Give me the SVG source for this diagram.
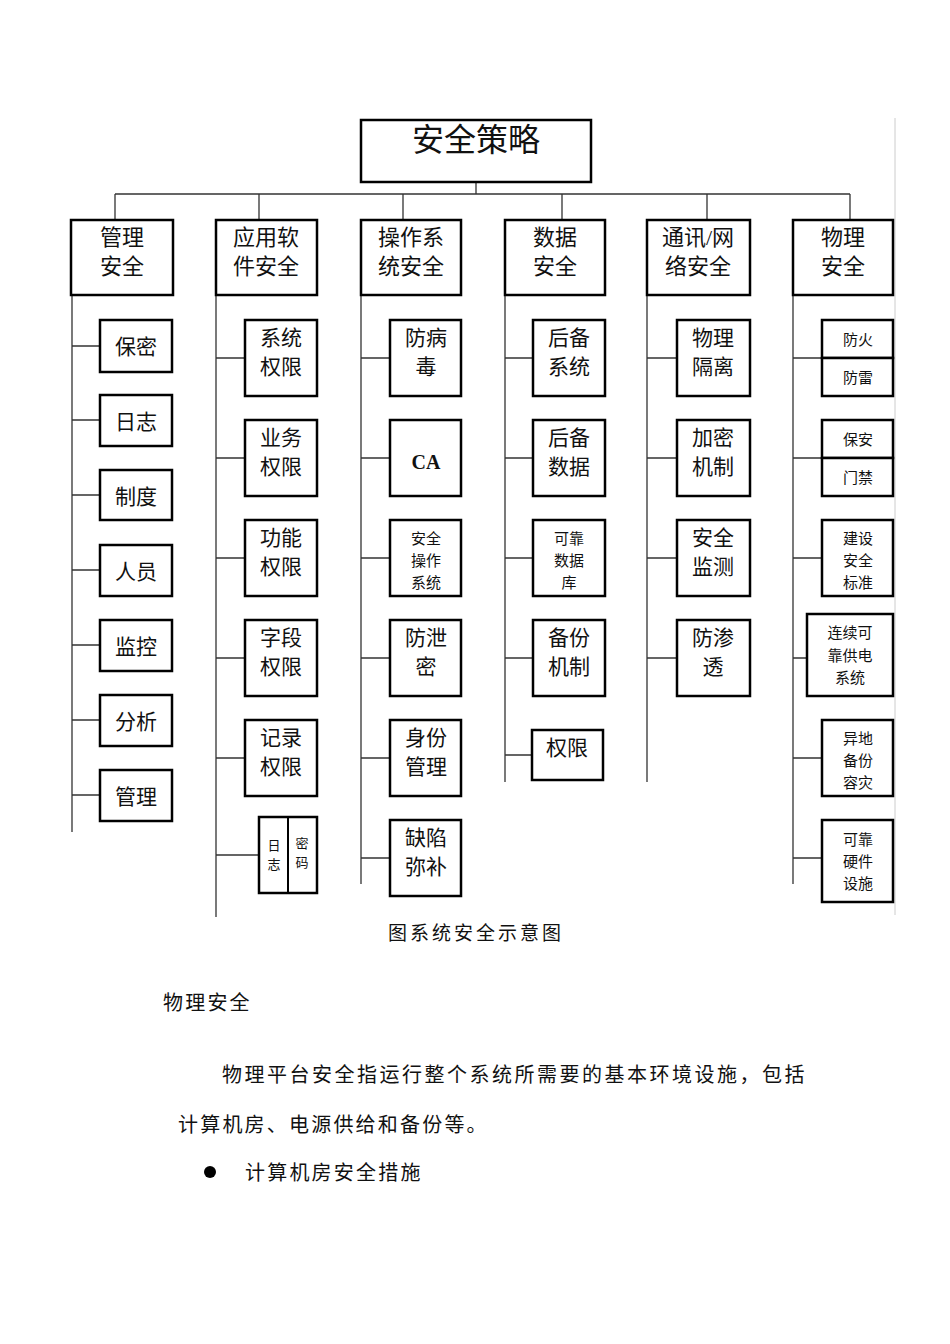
<svg xmlns="http://www.w3.org/2000/svg" width="950" height="1344" viewBox="0 0 950 1344">
<style>
.b{fill:#fff;stroke:#000;stroke-width:2.5}
.l{stroke:#333;stroke-width:1.3;fill:none}
text{font-family:"Liberation Serif","Noto Sans CJK SC",serif;fill:#111;text-anchor:middle}
.h{font-size:22px}.m{font-size:21px}.s{font-size:15px}.xs{font-size:13px}
.p{font-size:20px;text-anchor:start;letter-spacing:2.2px}
</style>
<rect width="950" height="1344" fill="#fff"/>
<line x1="895" y1="118" x2="895" y2="915" stroke="#ccc" stroke-width="1"/>
<g id="connectors" class="l">
<path d="M476 182V194M115 194H850M115 194V220M259 194V220M403 194V220M562 194V220M707 194V220M850 194V220"/>
<path d="M72 295V832M72 346H100M72 420H100M72 495H100M72 570H100M72 645H100M72 720H100M72 795H100"/>
<path d="M216 295V917M216 358H245M216 458H245M216 558H245M216 658H245M216 758H245M216 855H259"/>
<path d="M361 295V884M361 358H390M361 458H390M361 558H390M361 658H390M361 758H390M361 858H390"/>
<path d="M505 295V782M505 358H533M505 458H533M505 558H533M505 658H533M505 755H532"/>
<path d="M647 295V782M647 358H677M647 458H677M647 558H677M647 658H677"/>
<path d="M793 295V884M793 358H822M793 458H822M793 558H822M793 658H807M793 758H822M793 858H822"/>
</g>
<g id="root"><rect class="b" x="361" y="120" width="230" height="62"/><text x="476" y="151" style="font-size:32px">安全策略</text></g>
<g id="c1"><rect class="b" x="71" y="220" width="102" height="75"/><text class="h" x="122" y="245">管理</text><text class="h" x="122" y="274">安全</text></g>
<g id="c2"><rect class="b" x="216" y="220" width="101" height="75"/><text class="h" x="266" y="245">应用软</text><text class="h" x="266" y="274">件安全</text></g>
<g id="c3"><rect class="b" x="361" y="220" width="100" height="75"/><text class="h" x="411" y="245">操作系</text><text class="h" x="411" y="274">统安全</text></g>
<g id="c4"><rect class="b" x="505" y="220" width="100" height="75"/><text class="h" x="555" y="245">数据</text><text class="h" x="555" y="274">安全</text></g>
<g id="c5"><rect class="b" x="647" y="220" width="103" height="75"/><text class="h" x="698" y="245">通讯/网</text><text class="h" x="698" y="274">络安全</text></g>
<g id="c6"><rect class="b" x="793" y="220" width="100" height="75"/><text class="h" x="843" y="245">物理</text><text class="h" x="843" y="274">安全</text></g>

<g id="n1a"><rect class="b" x="100" y="320" width="72" height="52"/><text class="m" x="136" y="354">保密</text></g>
<g id="n1b"><rect class="b" x="100" y="395" width="72" height="51"/><text class="m" x="136" y="429">日志</text></g>
<g id="n1c"><rect class="b" x="100" y="470" width="72" height="50"/><text class="m" x="136" y="504">制度</text></g>
<g id="n1d"><rect class="b" x="100" y="545" width="72" height="51"/><text class="m" x="136" y="579">人员</text></g>
<g id="n1e"><rect class="b" x="100" y="620" width="72" height="51"/><text class="m" x="136" y="654">监控</text></g>
<g id="n1f"><rect class="b" x="100" y="695" width="72" height="51"/><text class="m" x="136" y="729">分析</text></g>
<g id="n1g"><rect class="b" x="100" y="770" width="72" height="51"/><text class="m" x="136" y="804">管理</text></g>

<g id="n2a"><rect class="b" x="245" y="320" width="72" height="76"/><text class="m" x="281" y="345">系统</text><text class="m" x="281" y="374">权限</text></g>
<g id="n2b"><rect class="b" x="245" y="420" width="72" height="76"/><text class="m" x="281" y="445">业务</text><text class="m" x="281" y="474">权限</text></g>
<g id="n2c"><rect class="b" x="245" y="520" width="72" height="76"/><text class="m" x="281" y="545">功能</text><text class="m" x="281" y="574">权限</text></g>
<g id="n2d"><rect class="b" x="245" y="620" width="72" height="76"/><text class="m" x="281" y="645">字段</text><text class="m" x="281" y="674">权限</text></g>
<g id="n2e"><rect class="b" x="245" y="720" width="72" height="76"/><text class="m" x="281" y="745">记录</text><text class="m" x="281" y="774">权限</text></g>
<g id="n2f"><rect class="b" x="259" y="817" width="58" height="76"/><line x1="288" y1="817" x2="288" y2="893" stroke="#000" stroke-width="2"/><text class="xs" x="274" y="850">日</text><text class="xs" x="274" y="869">志</text><text class="xs" x="302" y="848">密</text><text class="xs" x="302" y="867">码</text></g>

<g id="n3a"><rect class="b" x="390" y="320" width="71" height="76"/><text class="m" x="426" y="345">防病</text><text class="m" x="426" y="374">毒</text></g>
<g id="n3b"><rect class="b" x="390" y="420" width="71" height="76"/><text x="426" y="469" style="font-size:20px;font-weight:bold">CA</text></g>
<g id="n3c"><rect class="b" x="390" y="520" width="71" height="76"/><text class="s" x="426" y="544">安全</text><text class="s" x="426" y="566">操作</text><text class="s" x="426" y="588">系统</text></g>
<g id="n3d"><rect class="b" x="390" y="620" width="71" height="76"/><text class="m" x="426" y="645">防泄</text><text class="m" x="426" y="674">密</text></g>
<g id="n3e"><rect class="b" x="390" y="720" width="71" height="76"/><text class="m" x="426" y="745">身份</text><text class="m" x="426" y="774">管理</text></g>
<g id="n3f"><rect class="b" x="390" y="820" width="71" height="76"/><text class="m" x="426" y="845">缺陷</text><text class="m" x="426" y="874">弥补</text></g>

<g id="n4a"><rect class="b" x="533" y="320" width="72" height="76"/><text class="m" x="569" y="345">后备</text><text class="m" x="569" y="374">系统</text></g>
<g id="n4b"><rect class="b" x="533" y="420" width="72" height="76"/><text class="m" x="569" y="445">后备</text><text class="m" x="569" y="474">数据</text></g>
<g id="n4c"><rect class="b" x="533" y="520" width="72" height="76"/><text class="s" x="569" y="544">可靠</text><text class="s" x="569" y="566">数据</text><text class="s" x="569" y="588">库</text></g>
<g id="n4d"><rect class="b" x="533" y="620" width="72" height="76"/><text class="m" x="569" y="645">备份</text><text class="m" x="569" y="674">机制</text></g>
<g id="n4e"><rect class="b" x="532" y="730" width="71" height="50"/><text class="m" x="567" y="755">权限</text></g>

<g id="n5a"><rect class="b" x="677" y="320" width="73" height="76"/><text class="m" x="713" y="345">物理</text><text class="m" x="713" y="374">隔离</text></g>
<g id="n5b"><rect class="b" x="677" y="420" width="73" height="76"/><text class="m" x="713" y="445">加密</text><text class="m" x="713" y="474">机制</text></g>
<g id="n5c"><rect class="b" x="677" y="520" width="73" height="76"/><text class="m" x="713" y="545">安全</text><text class="m" x="713" y="574">监测</text></g>
<g id="n5d"><rect class="b" x="677" y="620" width="73" height="76"/><text class="m" x="713" y="645">防渗</text><text class="m" x="713" y="674">透</text></g>

<g id="n6a"><rect class="b" x="822" y="320" width="71" height="38"/><rect class="b" x="822" y="358" width="71" height="38"/><text class="s" x="858" y="345">防火</text><text class="s" x="858" y="383">防雷</text></g>
<g id="n6b"><rect class="b" x="822" y="420" width="71" height="38"/><rect class="b" x="822" y="458" width="71" height="38"/><text class="s" x="858" y="445">保安</text><text class="s" x="858" y="483">门禁</text></g>
<g id="n6c"><rect class="b" x="822" y="520" width="71" height="76"/><text class="s" x="858" y="544">建设</text><text class="s" x="858" y="566">安全</text><text class="s" x="858" y="588">标准</text></g>
<g id="n6d"><rect class="b" x="807" y="614" width="86" height="82"/><text class="s" x="850" y="638">连续可</text><text class="s" x="850" y="661">靠供电</text><text class="s" x="850" y="683">系统</text></g>
<g id="n6e"><rect class="b" x="822" y="720" width="71" height="76"/><text class="s" x="858" y="744">异地</text><text class="s" x="858" y="766">备份</text><text class="s" x="858" y="788">容灾</text></g>
<g id="n6f"><rect class="b" x="822" y="820" width="71" height="82"/><text class="s" x="858" y="845">可靠</text><text class="s" x="858" y="867">硬件</text><text class="s" x="858" y="889">设施</text></g>

<text x="476" y="940" style="font-size:19px;letter-spacing:3px">图系统安全示意图</text>
<text class="p" x="163" y="1010">物理安全</text>
<text class="p" x="222" y="1082" style="letter-spacing:2.5px">物理平台安全指运行整个系统所需要的基本环境设施，包括</text>
<text class="p" x="178" y="1132">计算机房、电源供给和备份等。</text>
<circle cx="210" cy="1172" r="6" fill="#000"/>
<text class="p" x="245" y="1180">计算机房安全措施</text>
</svg>
